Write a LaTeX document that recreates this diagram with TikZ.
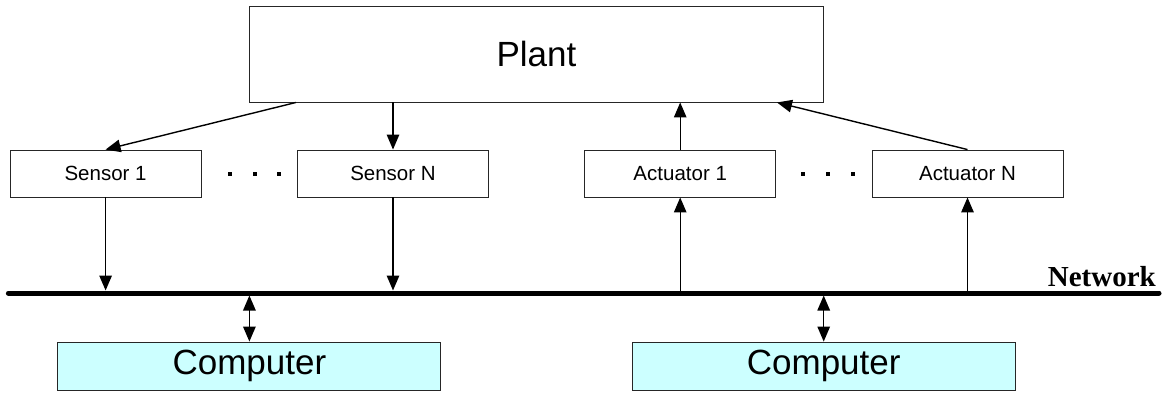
\documentclass[tikz,border=0pt]{standalone}
\usepackage{fontspec}
\setmainfont{Liberation Sans}
\newfontfamily\serifbold{Liberation Serif}
\usetikzlibrary{arrows.meta,calc}
\definecolor{compfill}{RGB}{204,255,255}
\begin{document}
\begin{tikzpicture}[x=1pt,y=-1pt,
  box/.style={draw=black!85,line width=0.9pt,inner sep=0pt},
  plantbox/.style={box,minimum width=574pt,minimum height=96pt,font=\fontsize{35}{40}\selectfont},
  devbox/.style={box,minimum width=191pt,minimum height=47pt,font=\fontsize{20.5}{24}\selectfont},
  compbox/.style={box,fill=compfill,minimum width=383pt,minimum height=48pt,font=\fontsize{35}{40}\selectfont},
  tip/.tip={Triangle[length=15pt,width=12.5pt]},
  conn/.style={line width=1.4pt,-tip},
  biconn/.style={line width=1.4pt,tip-tip},
  dotsq/.style={fill=black,minimum size=4pt,inner sep=0pt}
]
\useasboundingbox (0,0) rectangle (1170,394);

% plant, sensors, actuators, computers
\node[plantbox] (plant) at (536.5,54) {Plant};
\node[devbox] (s1) at (105.6,173.5) {Sensor 1};
\node[devbox] (sN) at (393,173.5) {Sensor N};
\node[devbox] (a1) at (680.2,173.5) {Actuator 1};
\node[devbox] (aN) at (967.5,173.5) {Actuator N};
\node[compbox] (c1) at (249.4,366) {Computer};
\node[compbox] (c2) at (823.7,366) {Computer};

% ellipsis dots
\foreach \x/\n in {230.4/1,254.5/2,279.4/3}
  \node[dotsq] (sd\n) at (\x,174) {};
\foreach \x/\n in {803.4/1,828.3/2,853.2/3}
  \node[dotsq] (ad\n) at (\x,174) {};

% network bus
\coordinate (netL) at (8.4,293);
\coordinate (netR) at (1159,293);
\draw[line width=5pt,line cap=round] (netL) -- (netR);
\node[anchor=base east,inner sep=0pt,font=\serifbold\bfseries\fontsize{29}{34}\selectfont] (netlabel) at (1156,286) {Network};

% plant <-> devices
\draw[conn] ([xshift=47pt]plant.south west) -- (s1.north);
\draw[conn] (plant.south -| sN.north) -- (sN.north);
\draw[conn] (a1.north) -- (plant.south -| a1.north);
\draw[conn] (aN.north) -- ([xshift=-47pt]plant.south east);

% devices <-> network
\draw[conn,shorten >=2.5pt] (s1.south) -- (s1.south |- netL);
\draw[conn,shorten >=2.5pt] (sN.south) -- (sN.south |- netL);
\draw[conn] (a1.south |- netL) -- (a1.south);
\draw[conn] (aN.south |- netL) -- (aN.south);

% computers <-> network
\draw[biconn,shorten <=2.5pt] (c1.north |- netL) -- (c1.north);
\draw[biconn,shorten <=2.5pt] (c2.north |- netL) -- (c2.north);
\end{tikzpicture}
\end{document}
